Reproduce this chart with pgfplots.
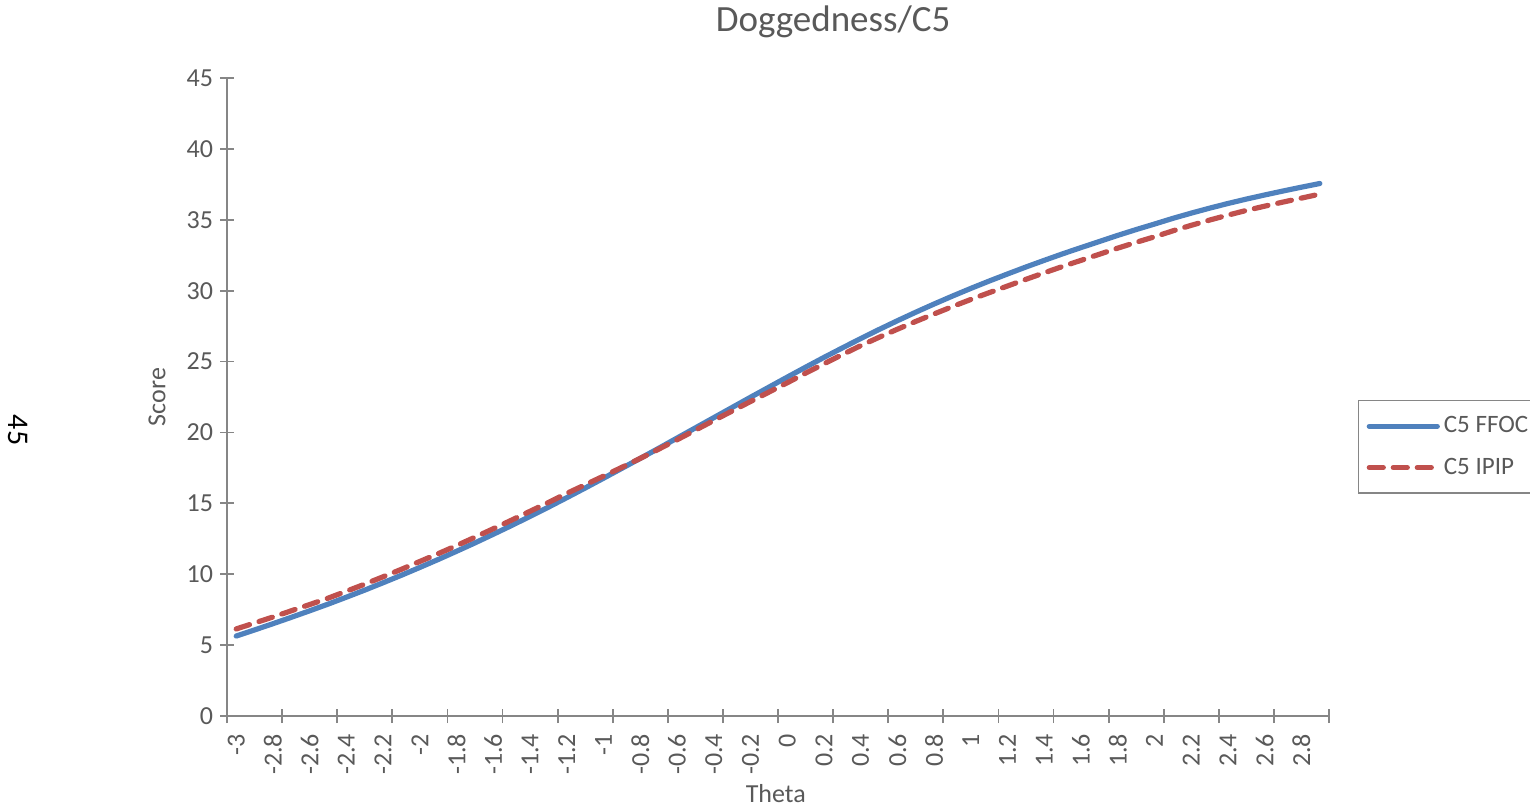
\documentclass[border=0pt]{standalone}
\usepackage{pgfplots}
\pgfplotsset{compat=1.18}
\usepackage{pgfplotstable}
\usepackage{fontspec}
\setmainfont{Carlito}
\definecolor{ffoc}{HTML}{4F81BD}
\definecolor{ipip}{HTML}{C0504D}
\definecolor{txt}{HTML}{595959}
\definecolor{axl}{HTML}{868686}
\pgfplotstableread{
theta ffoc ipip
-3.0 5.64 6.14
-2.9 6.07 6.56
-2.8 6.51 6.98
-2.7 6.96 7.42
-2.6 7.42 7.86
-2.5 7.89 8.31
-2.4 8.38 8.80
-2.3 8.88 9.30
-2.2 9.40 9.82
-2.1 9.93 10.35
-2.0 10.48 10.90
-1.9 11.04 11.45
-1.8 11.62 12.02
-1.7 12.21 12.61
-1.6 12.82 13.21
-1.5 13.44 13.82
-1.4 14.08 14.44
-1.3 14.73 15.06
-1.2 15.40 15.70
-1.1 16.08 16.31
-1.0 16.77 16.92
-0.9 17.47 17.54
-0.8 18.17 18.17
-0.7 18.88 18.82
-0.6 19.60 19.48
-0.5 20.32 20.16
-0.4 21.04 20.84
-0.3 21.76 21.51
-0.2 22.48 22.18
-0.1 23.19 22.84
0.0 23.90 23.50
0.1 24.60 24.18
0.2 25.29 24.84
0.3 25.96 25.49
0.4 26.62 26.12
0.5 27.26 26.71
0.6 27.88 27.28
0.7 28.48 27.83
0.8 29.06 28.36
0.9 29.62 28.88
1.0 30.16 29.38
1.1 30.68 29.86
1.2 31.18 30.33
1.3 31.67 30.80
1.4 32.14 31.26
1.5 32.60 31.71
1.6 33.04 32.14
1.7 33.47 32.57
1.8 33.90 33.00
1.9 34.31 33.41
2.0 34.70 33.80
2.1 35.10 34.22
2.2 35.47 34.61
2.3 35.82 34.98
2.4 36.15 35.33
2.5 36.46 35.66
2.6 36.75 35.96
2.7 37.03 36.25
2.8 37.30 36.53
2.9 37.56 36.81
}\datatable
\begin{document}
\begin{tikzpicture}
\path[use as bounding box] (0,0) rectangle (765pt,404.5pt);
\node[rotate=-90, font=\fontsize{15}{17}\selectfont, text=black] at (9pt,189.5pt) {45};
\begin{axis}[
  at={(113.5pt,46.5pt)}, anchor=south west,
  scale only axis, width=551pt, height=319pt,
  xmin=-3.05, xmax=2.95, ymin=0, ymax=45,
  axis x line=bottom, axis y line=left,
  axis line style={-, color=axl, line width=0.9pt},
  tick style={color=axl, line width=0.9pt},
  tick align=center,
  major tick length=7pt,
  ytick={0,5,...,45},
  xtick={-3,-2.8,-2.6,-2.4,-2.2,-2,-1.8,-1.6,-1.4,-1.2,-1,-0.8,-0.6,-0.4,-0.2,0,0.2,0.4,0.6,0.8,1,1.2,1.4,1.6,1.8,2,2.2,2.4,2.6,2.8},
  xticklabels={-3,-2.8,-2.6,-2.4,-2.2,-2,-1.8,-1.6,-1.4,-1.2,-1,-0.8,-0.6,-0.4,-0.2,0,0.2,0.4,0.6,0.8,1,1.2,1.4,1.6,1.8,2,2.2,2.4,2.6,2.8},
  x tick style={draw=none},
  extra x ticks={-3.05,-2.75,-2.45,-2.15,-1.85,-1.55,-1.25,-0.95,-0.65,-0.35,-0.05,0.25,0.55,0.85,1.15,1.45,1.75,2.05,2.35,2.65,2.95},
  extra x tick labels={},
  extra x tick style={tick style={draw=axl}, x tick style={draw=axl}},
  /pgf/number format/assume math mode=true,
  xticklabel style={rotate=90, anchor=east, font=\fontsize{13}{15}\selectfont, text=txt, xshift=-2pt, yshift=0pt},
  yticklabel style={font=\fontsize{13}{15}\selectfont, text=txt},
  xlabel={Theta}, ylabel={Score},
  xlabel style={at={(axis description cs:0.498,-0.1223)}, anchor=center, font=\fontsize{13}{15}\selectfont, text=txt},
  ylabel style={at={(axis description cs:-0.0635,0.5)}, anchor=center, font=\fontsize{13}{15}\selectfont, text=txt},
  title={Doggedness/C5},
  title style={at={(axis description cs:0.55,1.069)}, anchor=center, font=\fontsize{18.5}{21}\selectfont, text=txt},
  legend style={at={(axis description cs:1.0263,0.4953)}, anchor=north west, draw=axl, line width=0.7pt,
    font=\fontsize{12.5}{14}\selectfont, text=txt, inner xsep=4pt, inner ysep=6pt, row sep=7pt, cells={anchor=west}},
  legend image code/.code={\draw[#1] (0pt,0pt) -- (34pt,0pt);},
]
\addplot[color=ffoc, line width=2.6pt, line cap=round, no marks] table[x=theta, y=ffoc] {\datatable};
\addlegendentry{C5 FFOC}
\addplot[color=ipip, line width=2.6pt, line cap=round, dash pattern=on 7pt off 5pt, no marks] table[x=theta, y=ipip] {\datatable};
\addlegendentry{C5 IPIP}
\end{axis}
\end{tikzpicture}
\end{document}
